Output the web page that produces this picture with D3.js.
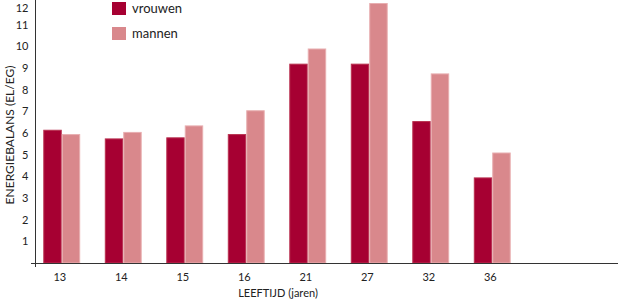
<!DOCTYPE html>
<html>
<head>
<meta charset="utf-8">
<script src="https://cdn.jsdelivr.net/npm/d3@7"></script>
<style>
    body { margin: 0; background: #fff; }
    text { font-family: Lato, "Open Sans", sans-serif; fill: #222; }
</style>
</head>
<body>
<div id="chart"></div>
<script>
// leeftijden (jaren)
const categories = ['13', '14', '15', '16', '21', '27', '32', '36'];
const seriesNames = ['vrouwen', 'mannen'];
const vrouwen = [6.15, 5.75, 5.8, 5.95, 9.2, 9.2, 6.55, 3.95];
const mannen = [5.95, 6.05, 6.35, 7.05, 9.9, 12.0, 8.75, 5.1];
const yTicks = [1, 2, 3, 4, 5, 6, 7, 8, 9, 10, 11, 12];

const colors = {vrouwen: '#a60032', mannen: '#d9888c'};
const strokes = {vrouwen: '#b8304f', mannen: '#e8aeb0'};

const width = 618, height = 300;
const baseY = 263, topY = 3;

const svg = d3.select('#chart')
    .append('svg')
    .attr('width', width)
    .attr('height', height);

const x = d3.scaleBand()
    .domain(categories)
    .range([31, 523])
    .paddingInner(0.4)
    .paddingOuter(0.2);

const xSub = d3.scaleBand()
    .domain(seriesNames)
    .range([0, x.bandwidth()]);

const y = d3.scaleLinear()
    .domain([0, 12])
    .range([baseY, topY]);

const rows = categories.map((c, i) => ({cat: c, vrouwen: vrouwen[i], mannen: mannen[i]}));

// bars
const groups = svg.append('g')
    .selectAll('g')
    .data(rows)
    .join('g')
    .attr('transform', d => `translate(${x(d.cat)},0)`);

groups.selectAll('rect')
    .data(d => seriesNames.map(s => ({key: s, value: d[s]})))
    .join('rect')
    .attr('x', d => xSub(d.key) + 0.5)
    .attr('width', xSub.bandwidth() - 1)
    .attr('y', d => y(d.value) + 0.5)
    .attr('height', d => baseY - y(d.value) - 0.5)
    .attr('fill', d => colors[d.key])
    .attr('stroke', d => strokes[d.key])
    .attr('stroke-width', 1);

// y axis
const yAxis = d3.axisLeft(y)
    .tickValues(yTicks)
    .tickSize(0)
    .tickPadding(7);
const yg = svg.append('g')
    .attr('transform', 'translate(35.5,0)')
    .call(yAxis);
yg.select('.domain').remove();
yg.selectAll('text')
    .attr('font-size', 11)
    .attr('dy', d => d === 12 ? '0.75em' : '0.32em')
    .style('font-family', 'Lato, sans-serif');
svg.append('line')
    .attr('x1', 35.5).attr('x2', 35.5)
    .attr('y1', 0).attr('y2', baseY + 4)
    .attr('stroke', '#333');

// x axis
const xAxis = d3.axisBottom(x)
    .tickSize(0)
    .tickPadding(10);
const xg = svg.append('g')
    .attr('transform', `translate(0,${baseY})`)
    .call(xAxis);
xg.select('.domain').remove();
xg.selectAll('text')
    .attr('font-size', 11)
    .attr('dx', -2)
    .style('font-family', 'Lato, sans-serif');
svg.append('line')
    .attr('x1', 31).attr('x2', width)
    .attr('y1', baseY + 0.5).attr('y2', baseY + 0.5)
    .attr('stroke', '#333');

// axis titles
svg.append('text')
    .attr('x', 278)
    .attr('y', 297)
    .attr('text-anchor', 'middle')
    .attr('font-size', 11)
    .text('LEEFTIJD (jaren)');

svg.append('text')
    .attr('transform', 'translate(14,135) rotate(-90)')
    .attr('text-anchor', 'middle')
    .attr('font-size', 12)
    .text('ENERGIEBALANS (EL/EG)');

// legend
const legend = svg.append('g')
    .selectAll('g')
    .data(seriesNames)
    .join('g')
    .attr('transform', (d, i) => `translate(112,${2 + i * 25})`);
legend.append('rect')
    .attr('width', 14)
    .attr('height', 13)
    .attr('fill', d => colors[d]);
legend.append('text')
    .attr('x', 20)
    .attr('y', 11)
    .attr('font-size', 13)
    .text(d => d);
</script>
</body>
</html>
